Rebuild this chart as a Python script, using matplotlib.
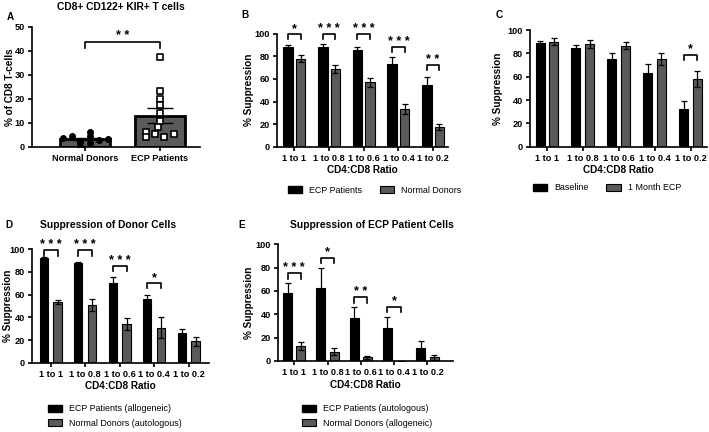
"""
Regulatory CD8 T-cell panels (A-E)
"""
import numpy as np
import matplotlib.pyplot as plt
from matplotlib.patches import Patch

plt.rcParams['font.family'] = ['Liberation Sans', 'DejaVu Sans']

W, H = 709, 432
GREY = '#5a5a5a'

ratios = ['1 to 1', '1 to 0.8', '1 to 0.6', '1 to 0.4', '1 to 0.2']

# panel A
a_groups = ['Normal Donors', 'ECP Patients']
a_nd = [3.75, 4.6, 0.4, 2.0, 6.1, 4.6, 1.7, 2.7, 3.1]
a_ecp = [37.5, 23.3, 20.0, 17.4, 13.9, 10.8, 8.3, 6.0, 4.0, 5.2, 4.0, 5.2]
a_nd_err = 0.6
a_ecp_err = 3.0
# horizontal jitter of the dots
a_nd_jit = [-0.30, -0.18, -0.07, -0.07, 0.06, 0.06, 0.06, 0.18, 0.30]
a_ecp_jit = [0, 0, 0, 0, 0, 0, -0.02, -0.19, -0.19, -0.06, 0.05, 0.19]

# panel B
b_ecp = [88, 88, 85.5, 73.5, 54.5]
b_ecp_err = [2, 2.5, 2.5, 5.5, 7.5]
b_nd = [78, 68.5, 57, 33, 17.5]
b_nd_err = [3, 3.5, 4, 4.5, 3]
b_stars = ['*', '***', '***', '***', '**']
b_brk = [99.5, 99.5, 99.5, 88, 72]

# panel C
c_base = [88.5, 85, 75.5, 63.5, 32.5]
c_base_err = [2.5, 2.5, 4.5, 7, 6.5]
c_ecp = [90, 88, 86.5, 75, 58]
c_ecp_err = [3, 3.5, 3, 5, 7]
c_stars = ['', '', '', '', '*']
c_brk = [0, 0, 0, 0, 79]

# panel D
d_ecp = [92, 87.5, 70, 56, 26.5]
d_ecp_err = [1, 1.5, 6, 4, 3.5]
d_nd = [53.5, 51, 34, 31, 19]
d_nd_err = [1.5, 5, 5.5, 9, 4]
d_stars = ['***', '***', '***', '*', '']
d_brk = [99, 99, 85, 70, 0]

# panel E
e_ecp = [58.5, 62.5, 37, 28, 11]
e_ecp_err = [8, 17.5, 9, 10, 6]
e_nd = [12.5, 8, 3, 0, 3]
e_nd_err = [3.5, 3, 1, 0, 2.5]
e_stars = ['***', '*', '**', '*', '']
e_brk = [75, 88.5, 54.5, 46.5, 0]


def px_axes(fig, x0, y0, x1, y1):
    """axes from pixel box (top-left origin)"""
    return fig.add_axes([x0 / W, 1 - y1 / H, (x1 - x0) / W, (y1 - y0) / H])


def style(ax, ylab_px):
    for s in ['top', 'right']:
        ax.spines[s].set_visible(False)
    for s in ['left', 'bottom']:
        ax.spines[s].set_linewidth(1.2)
    ax.tick_params(width=1.2, length=3, labelsize=6.6, pad=2)
    for lab in ax.get_xticklabels() + ax.get_yticklabels():
        lab.set_fontweight('bold')
    # y label centred on a fixed pixel column (label anchor is its right edge)
    x0 = ax.get_position().x0 * W
    ax.yaxis.set_label_coords((ylab_px + 5 - x0) / (ax.get_position().width * W), 0.5)


def star_text(ax, x, y, star):
    # GraphPad-style spaced asterisks
    ax.text(x, y, ' '.join(star), ha='center', va='bottom', fontsize=9,
            fontweight='bold')


def bracket(ax, x0, x1, y, star, drop=4.5):
    ax.plot([x0, x0, x1, x1], [y - drop, y, y, y - drop], color='black', lw=1.2,
            clip_on=False)
    star_text(ax, (x0 + x1) / 2, y - 0.5, star)


def grouped(ax, s1, e1, s2, e2, stars, brk, off, width, xlim, ylab_px):
    x = np.arange(len(ratios))
    kw = dict(width=width, edgecolor='black', linewidth=0.8, zorder=2)
    ekw = dict(ecolor='black', elinewidth=0.9, capsize=2.5, capthick=0.9)
    ax.bar(x - off, s1, color='black', yerr=e1, error_kw=ekw, **kw)
    ax.bar(x + off, s2, color=GREY, yerr=e2, error_kw=ekw, **kw)
    for i, st in enumerate(stars):
        if st:
            bracket(ax, x[i] - off, x[i] + off, brk[i], st)
    ax.set_xticks(x)
    ax.set_xticklabels(ratios)
    ax.set_xlim(*xlim)
    ax.set_ylim(0, 100)
    ax.set_yticks(range(0, 101, 20))
    ax.set_xlabel('CD4:CD8 Ratio', fontsize=7.2, fontweight='bold', labelpad=2)
    ax.set_ylabel('% Suppression', fontsize=7.2, fontweight='bold')
    style(ax, ylab_px)


def legend(fig, labels, x, y, ncol):
    handles = [Patch(facecolor='black', edgecolor='black'),
               Patch(facecolor=GREY, edgecolor='black', linewidth=0.8)]
    fig.legend(handles, labels, loc='center left', bbox_to_anchor=(x / W, 1 - y / H),
               ncol=ncol, frameon=False, fontsize=6.4, handlelength=1.6,
               handleheight=0.8, handletextpad=0.8, columnspacing=2.0,
               labelspacing=0.6, borderaxespad=0, borderpad=0)


fig = plt.figure(figsize=(W / 100, H / 100), dpi=100)

# A
axA = px_axes(fig, 31.7, 26.7, 200, 146.7)
means = [np.mean(a_nd), np.mean(a_ecp)]
axA.bar([0, 1], means, width=0.67, color=GREY, edgecolor='black', linewidth=2,
        zorder=1)
axA.errorbar([0, 1], means, yerr=[a_nd_err, a_ecp_err], fmt='none', ecolor='black',
             elinewidth=1.0, capsize=9.5, capthick=1.0, zorder=2)
axA.scatter(np.array(a_nd_jit), a_nd, s=16, color='black', zorder=3)
axA.scatter(1 + np.array(a_ecp_jit), a_ecp, s=18, marker='s', facecolor='white',
            edgecolor='black', linewidth=1.2, zorder=3)
axA.plot([0, 0, 1, 1], [41, 43.5, 43.5, 41], color='black', lw=1.2)
star_text(axA, 0.5, 43.5, '**')
axA.set_xlim(-0.72, 1.54)
axA.set_ylim(0, 50)
axA.set_xticks([0, 1])
axA.set_xticklabels(a_groups)
axA.set_yticks(range(0, 51, 10))
axA.set_ylabel('% of CD8 T-cells', fontsize=7.2, fontweight='bold')
style(axA, 10)

# B
axB = px_axes(fig, 276.7, 33.7, 448, 146.7)
grouped(axB, b_ecp, b_ecp_err, b_nd, b_nd_err, b_stars, b_brk, 0.18, 0.27,
        (-0.51, 4.43), 249)
legend(fig, ['ECP Patients', 'Normal Donors'], 288, 190, 2)

# C
axC = px_axes(fig, 530, 30, 706.7, 146.7)
grouped(axC, c_base, c_base_err, c_ecp, c_ecp_err, c_stars, c_brk, 0.19, 0.25,
        (-0.47, 4.45), 498)
legend(fig, ['Baseline', '1 Month ECP'], 533, 188, 2)

# D
axD = px_axes(fig, 31.7, 249.3, 209, 362.7)
grouped(axD, d_ecp, d_ecp_err, d_nd, d_nd_err, d_stars, d_brk, 0.2, 0.24,
        (-0.55, 4.59), 8)
legend(fig, ['ECP Patients (allogeneic)', 'Normal Donors (autologous)'], 48, 416, 1)

# E
axE = px_axes(fig, 278, 244.3, 453, 361)
grouped(axE, e_ecp, e_ecp_err, e_nd, e_nd_err, e_stars, e_brk, 0.2, 0.27,
        (-0.49, 4.77), 249)
legend(fig, ['ECP Patients (autologous)', 'Normal Donors (allogeneic)'], 302, 416, 1)

# titles and panel letters
fig.text(120.7 / W, 1 - 7 / H, 'CD8+ CD122+ KIR+ T cells', ha='center', va='center',
         fontsize=7.4, fontweight='bold')
fig.text(108 / W, 1 - 225 / H, 'Suppression of Donor Cells', ha='center', va='center',
         fontsize=7.4, fontweight='bold')
fig.text(372 / W, 1 - 225 / H, 'Suppression of ECP Patient Cells', ha='center',
         va='center', fontsize=7.4, fontweight='bold')
for letter, lx, ly in [('A', 10, 17), ('B', 245, 15), ('C', 499, 15),
                       ('D', 9, 225), ('E', 242, 225)]:
    fig.text(lx / W, 1 - ly / H, letter, ha='center', va='center', fontsize=7.2,
             fontweight='bold')

fig.savefig('out.png', dpi=100)
